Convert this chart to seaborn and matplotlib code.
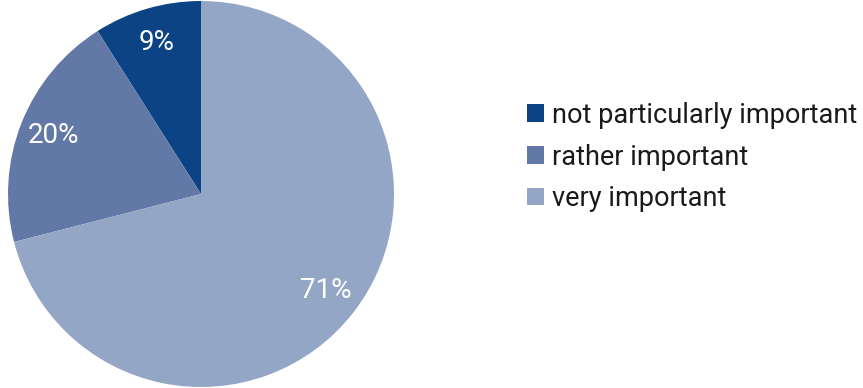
import matplotlib.pyplot as plt
import seaborn as sns
from matplotlib.patches import Patch

# Survey answers (share in %)
labels = ["not particularly important", "rather important", "very important"]
shares = [9, 20, 71]
colors = ["#0b4385", "#6279a8", "#93a6c6"]

sns.set_style("white")
plt.rcParams['font.family'] = ['Roboto', 'DejaVu Sans']

fig = plt.figure(figsize=(8.63, 3.88), dpi=100)
ax = fig.add_axes([8 / 863, 1 / 388, 386 / 863, 386 / 388])

wedges, texts, autotexts = ax.pie(
    shares, colors=colors, startangle=90, counterclock=True,
    autopct=lambda p: f"{p:.0f}%", pctdistance=0.82,
    wedgeprops=dict(linewidth=0),
    textprops=dict(color="white", fontsize=20),
)
ax.set_xlim(-1, 1)
ax.set_ylim(-1, 1)
ax.set_aspect("equal")

# Legend
handles = [Patch(facecolor=c, edgecolor="none", label=l) for c, l in zip(colors, labels)]
fig.legend(handles=handles, loc="center left", bbox_to_anchor=(503 / 863, 1 - 157 / 388),
           frameon=False, fontsize=19.5, handlelength=0.6, handleheight=0.6,
           handletextpad=0.3, labelspacing=0.55, labelcolor="#1a1a1a")

fig.savefig("out.png", dpi=100)
